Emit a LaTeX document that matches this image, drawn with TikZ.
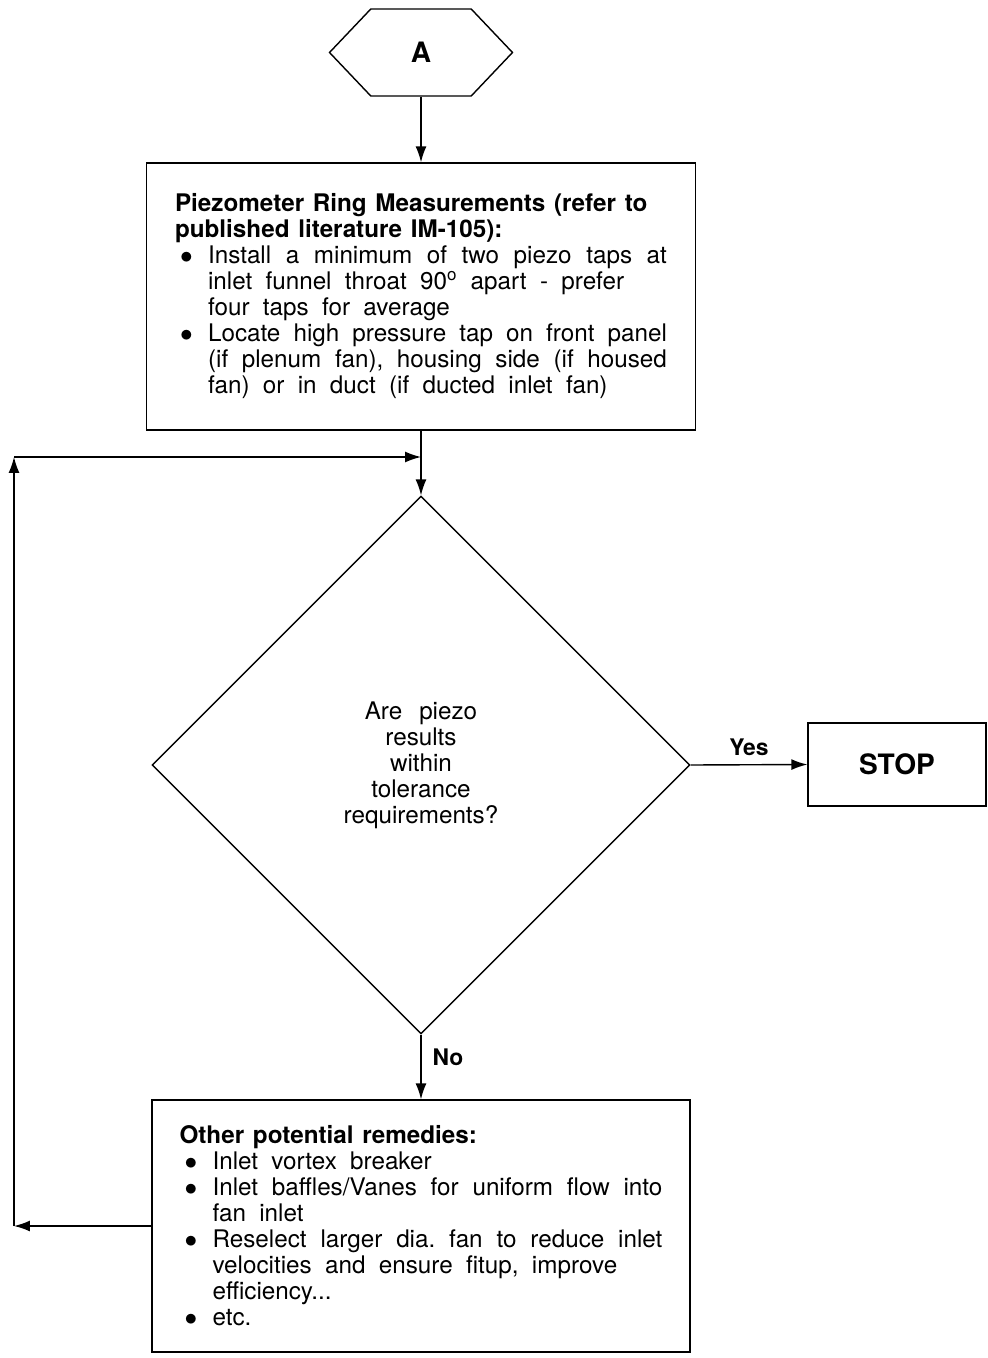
\documentclass[tikz,border=0pt]{standalone}
\usepackage{fontspec}
\setmainfont{TeX Gyre Heros}
\usepackage{tikz}
\usetikzlibrary{arrows.meta,shapes.geometric,shapes.symbols}

\newcommand{\bodyfont}{\fontsize{13.8}{14.8}\selectfont\frenchspacing\spaceskip=0.55em plus 0.6em minus 0.1em\relax}
\newcommand{\boxtitle}[1]{{\bfseries\spaceskip=0.36em plus 0.2em\relax #1}}
\newcommand{\tapitem}[1]{\par\noindent\hangindent=0.66cm\hangafter=1\makebox[0.66cm][l]{\hspace{0.1cm}$\bullet$}#1}

\begin{document}
\begin{tikzpicture}[x=0.02cm,y=-0.02cm]
		\tikzstyle{connector}=[draw=black, line width=0.8pt]
		\tikzstyle{stepbox}=[rectangle, draw=black, line width=0.8pt, font=\bodyfont, align=justify, inner sep=0pt]
		\tikzstyle{decision}=[diamond, aspect=1, draw=black, line width=0.8pt, inner sep=0pt, minimum width=10.76cm, minimum height=10.76cm, font=\bodyfont, align=center]
		\tikzstyle{flow}=[connector, -{Latex[length=0.32cm,width=0.22cm]}]
		\tikzstyle{answer}=[font=\fontsize{13}{15}\selectfont\bfseries]

		\useasboundingbox (0,0) rectangle (987,1358);

		\node [signal, signal to=west and east, signal pointer angle=93, draw=black, line width=0.8pt, minimum width=3.66cm, minimum height=1.74cm, font=\fontsize{16}{18}\selectfont\bfseries] (hexA) at (421,52.5) {A};

		\node [stepbox, minimum width=10.98cm, minimum height=5.34cm, text width=9.84cm] (piezo) at (421,296.5) {%
			\noindent\boxtitle{Piezometer Ring Measurements (refer to\newline published literature IM-105):}
			\tapitem{Install a minimum of two piezo taps at\linebreak inlet funnel throat 90\textsuperscript{o} apart - prefer\newline four taps for average}
			\tapitem{Locate high pressure tap on front panel\linebreak (if plenum fan), housing side (if housed\linebreak fan) or in duct (if ducted inlet fan)}\par\vspace{0.16cm}};

		\node [decision] (check) at (421,765) {Are\hspace{0.7em}piezo\\results\\within\\tolerance\\requirements?};

		\node [stepbox, align=center, minimum width=3.56cm, minimum height=1.66cm, font=\fontsize{16}{18}\selectfont\bfseries] (stop) at (897,764.5) {STOP};

		\node [stepbox, minimum width=10.76cm, minimum height=5.04cm, text width=9.66cm] (remedies) at (421,1226) {%
			\noindent\boxtitle{Other potential remedies:}
			\tapitem{Inlet vortex breaker}
			\tapitem{Inlet baffles/Vanes for uniform flow into\linebreak fan inlet}
			\tapitem{Reselect larger dia. fan to reduce inlet\linebreak velocities and ensure fitup, improve\newline efficiency...}
			\tapitem{etc.}\par};

		% loop back corners
		\coordinate (loopT) at (14,457);
		\coordinate (loopB) at (loopT |- remedies.west);
		\coordinate (joinP) at (loopT -| piezo.south);

		\draw [flow] (hexA.south) -- (piezo.north);
		\draw [flow] (piezo.south) -- (check.north);
		\draw [flow] (check.east) -- node [answer, above, yshift=0.05cm] {Yes} (stop.west);
		\draw [flow] (check.south) -- node [answer, right, pos=0.35, xshift=0.1cm] {No} (remedies.north);
		\draw [flow] (remedies.west) -- (loopB);
		\draw [flow] (loopB) -- (loopT);
		\draw [flow] (loopT) -- (joinP);
	\end{tikzpicture}
\end{document}
